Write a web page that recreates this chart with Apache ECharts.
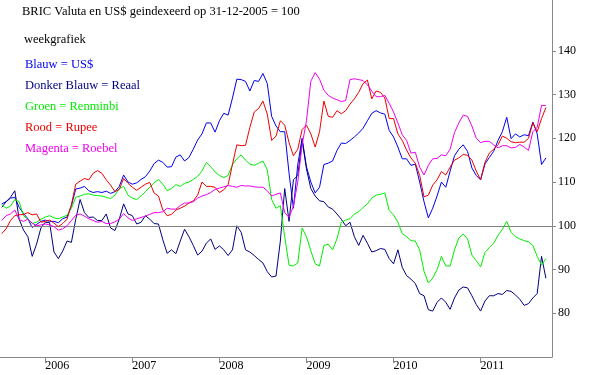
<!DOCTYPE html>
<html>
<head>
<meta charset="utf-8">
<script src="https://cdn.jsdelivr.net/npm/echarts@6/dist/echarts.min.js"></script>
<style>
  html, body { margin: 0; padding: 0; background: #fff; }
  #chart { width: 600px; height: 375px; }
</style>
</head>
<body>
<div id="chart"></div>
<script>
// sample dates: every 0.05 year from mid 2005 (index = 100 on 31-12-2005)
var startYear = 2005.5, step = 0.05;

var usd = [
  105, 105.5, 106.3, 106.5, 104.2, 102.8, 101.6, 99.6, 100.3, 101,
  101.3, 101, 101, 100.7, 101.6, 102, 104.6, 108.4, 108.6, 109,
  108, 107.6, 107.8, 107.6, 107.9, 107.4, 107.8, 109, 111.6, 110,
  109.5, 109.8, 110.6, 111.2, 112.5, 114.2, 115, 114.5, 113.4, 113.5,
  115.7, 116.2, 114.8, 115.6, 117.5, 119.6, 121, 123.5, 123.5, 121.4,
  124, 125.7, 125.3, 129.2, 133.5, 133.4, 133, 130.8, 133.2, 133,
  134.8, 132.5, 125, 122.8, 121.5, 121.5, 112, 104, 114, 120,
  113.5, 110, 107.5, 108.8, 114, 114.3, 114.8, 117.2, 118.9, 118.8,
  119.5, 120.3, 121.2, 122.3, 124, 125.7, 126.3, 125.8, 125.5, 121.8,
  120.3, 118, 115.3, 115.3, 113.8, 114.1, 110, 105.5, 101.8, 104,
  106.8, 110, 108.8, 112.5, 116, 117.5, 118.5, 117, 113.2, 111.5,
  110.5, 114.1, 115.6, 117, 119.5, 121.5, 124.8, 119.9, 121, 120.3,
  120.8, 120.6, 123.7, 121, 114, 115.5
];
var reaal = [
  104.2, 105.5, 106.5, 108, 101.5, 99, 97.5, 93, 95.8, 99.5,
  100.8, 100.7, 94, 92.5, 94.2, 96.5, 96.2, 101.5, 106, 103,
  101.9, 102, 101.2, 101.2, 102.7, 99.5, 98.9, 101.5, 105, 102.7,
  102.3, 100.4, 100.8, 102.3, 101.5, 100.5, 100.4, 96.8, 93.7, 94.5,
  93.6, 96.5, 99.2, 97.5, 95.5, 93.3, 94.2, 96, 97, 94.6,
  95.4, 94.5, 93.2, 94.5, 100, 98.5, 94.5, 94, 93.2, 92.3,
  91.5, 89.5, 88.3, 88.5, 96.5, 108.5, 101, 110.5, 111.5, 119.5,
  113, 108.5, 106.8, 105.7, 105.5, 104.3, 103.8, 102.7, 101.5, 100,
  100.8, 97.5, 95.5, 97.8, 96, 94, 94.3, 94.8, 94.6, 92.5,
  91.3, 94.5, 90.5, 88.6, 87.8, 86.8, 84.5, 84, 80.8, 80.5,
  82.5, 83.5, 82.5, 80.9, 83.5, 85.3, 86, 85.8, 84, 82,
  80.5, 82.8, 84, 84, 84.5, 84.3, 85.2, 85, 84.2, 83.2,
  81.8, 82.2, 83.5, 84.5, 93, 88
];
var renminbi = [
  104.8, 104, 104.5, 106, 105.5, 102.3, 101.5, 100.5, 100.8, 101.5,
  102, 102.3, 101.8, 101.6, 102, 102.4, 104, 106.5, 106.8, 107.2,
  107.3, 107, 106.9, 106.8, 106.5, 106.2, 107, 108.5, 109, 107,
  106.3, 106, 106.8, 107.8, 108.8, 109.8, 110.6, 109.5, 108, 108.5,
  109.4, 109, 109.7, 110, 110.6, 111.3, 112.5, 114.5, 113.5, 112.3,
  111.5, 111, 111.5, 114, 115.3, 116.2, 115, 114.1, 113.8, 114.3,
  114.8, 112.8, 106, 104, 104.6, 97.5, 91, 90.8, 91.5, 99.5,
  97.5, 94.3, 91.3, 90.8, 95.5, 95.8, 94.5, 97, 100.8, 101.3,
  101.6, 102.7, 103.2, 104.2, 105, 106.3, 107, 107.2, 107.5, 103.5,
  102.5, 100.8, 98.2, 97.5, 96.6, 96.5, 94.5, 89.6, 86.9, 88,
  90, 93, 90.8, 90.8, 94.5, 97.2, 98.1, 97, 93.3, 92,
  90.6, 93.9, 95, 96, 97.8, 99.2, 101, 98.5, 97.5, 97,
  96.6, 96.3, 95.5, 93, 91, 92.5
];
var rupee = [
  98.2, 99.3, 101.2, 102.3, 102.5, 102.6, 103, 102.5, 102.7, 100.8,
  101, 101.3, 100.6, 99.8, 100.5, 101.5, 104.8, 109.5, 110.2, 110.8,
  110.5, 112, 112.6, 112, 110.5, 109.3, 107.8, 108.3, 110.8, 109.7,
  108.8, 108.1, 108.8, 109.5, 109.9, 107.5, 106.8, 103.6, 102.3, 102.6,
  103.6, 104, 104.5, 105.2, 105.7, 107, 110, 109, 109, 108.8,
  107.6, 108.2, 109.4, 114, 118.5, 118.3, 118.4, 122.5, 126, 126.8,
  128.5, 125.5, 119.5, 120.5, 124, 123, 119, 116, 117.5, 122,
  123, 121, 118, 121.5, 128.5, 125, 124.8, 126.3, 125.6, 126.3,
  127.8, 129, 130.5, 132.5, 133.3, 129, 130.8, 130.5, 129.2, 124.5,
  124.5, 121, 119.5, 117.3, 115.5, 114.3, 111.5, 106.6, 107, 109.3,
  110.5, 112.4, 111.6, 113.4, 115, 115.5, 116.3, 116.1, 115, 112.5,
  110.5, 114.5, 116.6, 117.5, 118.5, 120.5, 120, 119.2, 119, 119.1,
  119.1, 120, 123.5, 121.5, 124.5, 127
];
var roebel = [
  101.2, 102.3, 102.7, 103.6, 101.4, 101, 101.5, 100.6, 100, 100.2,
  100.4, 100.2, 99.8, 99, 99.3, 100, 101.2, 102.4, 102.7, 102.2,
  101.6, 101.2, 100.8, 101, 100.5, 100.5, 100.9, 101.5, 102.8, 101.8,
  101.2, 101.6, 101.9, 102.2, 102.6, 103, 103, 103.2, 104, 103.8,
  103.8, 104.6, 105.2, 105.2, 105.5, 106.3, 106.8, 107.1, 107.6, 108.3,
  108.6, 108.9, 109.2, 109, 108.8, 109.2, 109.1, 109.1, 108.9, 108.8,
  108.8, 108, 106.8, 107.2, 107.5, 103, 101.9, 104.5, 110, 118.5,
  124, 133, 135, 133.5, 131, 129.8, 129.2, 128.8, 128.4, 128.6,
  133.4, 133.6, 133.4, 133.2, 132.2, 130.8, 129.5, 129.5, 129.8, 128,
  126, 123.5, 120.8, 119.5, 116.6, 116.8, 113.4, 111.6, 113.8, 115.3,
  115.4, 116.2, 116, 117.5, 121.3, 123.5, 125.3, 125, 122.8, 120,
  119, 119.3, 119.3, 118.5, 117.8, 118.3, 118.3, 117.8, 117.9, 118.6,
  118, 117.2, 121.5, 122.5, 127.5, 127.5
];

var yearTicks = [2006, 2007, 2008, 2009, 2010, 2011];
var valueTicks = [80, 90, 100, 110, 120, 130, 140];

var FONT = 'Liberation Serif';

var lines = [
  { name: 'Blauw = US$', color: '#0000ee', data: usd },
  { name: 'Donker Blauw = Reaal', color: '#000080', data: reaal },
  { name: 'Groen = Renminbi', color: '#00ee00', data: renminbi },
  { name: 'Rood = Rupee', color: '#ee0000', data: rupee },
  { name: 'Magenta = Roebel', color: '#ee00ee', data: roebel }
];

function withDates(vals) {
  return vals.map(function (v, i) {
    return [+(startYear + i * step).toFixed(2), v];
  });
}

var chart = echarts.init(document.getElementById('chart'), null, { renderer: 'canvas' });

var series = lines.map(function (l, idx) {
  var s = {
    name: l.name,
    type: 'line',
    data: withDates(l.data),
    showSymbol: false,
    symbol: 'none',
    lineStyle: { color: l.color, width: 1 },
    itemStyle: { color: l.color },
    z: 3 + idx
  };
  if (idx === 0) {
    s.markLine = {
      silent: true,
      symbol: ['none', 'none'],
      label: { show: false },
      lineStyle: { color: '#808080', width: 1, type: 'solid' },
      data: [{ yAxis: 100 }]
    };
  }
  return s;
});

chart.setOption({
  animation: false,
  backgroundColor: '#fff',
  title: [
    {
      text: 'BRIC Valuta en US$ geindexeerd op 31-12-2005 = 100',
      left: 22, top: 5, padding: 0,
      textStyle: { fontFamily: FONT, fontSize: 12.5, fontWeight: 'normal', color: '#000' }
    },
    {
      text: 'weekgrafiek',
      left: 24, top: 33, padding: 0,
      textStyle: { fontFamily: FONT, fontSize: 12.5, fontWeight: 'normal', color: '#000' }
    }
  ],
  legend: {
    orient: 'vertical',
    left: 19, top: 58, padding: 0,
    itemGap: 8, itemWidth: 0, itemHeight: 0,
    selectedMode: false,
    data: lines.map(function (l) {
      return { name: l.name, textStyle: { color: l.color } };
    }),
    textStyle: { fontFamily: FONT, fontSize: 12.5 }
  },
  grid: { left: 0, right: 48, top: 0, bottom: 18 },
  xAxis: {
    type: 'value',
    min: 2005.48,
    max: 2011.82,
    axisLine: { lineStyle: { color: '#888', width: 1 } },
    axisTick: { customValues: yearTicks, length: 6, lineStyle: { color: '#888' } },
    axisLabel: {
      customValues: yearTicks,
      align: 'left',
      margin: 3,
      fontFamily: FONT, fontSize: 12, color: '#000',
      formatter: function (v) { return String(Math.round(v)); }
    },
    splitLine: { show: false }
  },
  yAxis: {
    type: 'value',
    position: 'right',
    min: 70,
    max: 151.6,
    axisLine: { show: true, lineStyle: { color: '#888', width: 1 } },
    axisTick: { show: true, customValues: valueTicks, length: 4, lineStyle: { color: '#888' } },
    axisLabel: {
      customValues: valueTicks,
      margin: 6,
      fontFamily: FONT, fontSize: 12, color: '#000'
    },
    splitLine: { show: false }
  },
  series: series
});
</script>
</body>
</html>
